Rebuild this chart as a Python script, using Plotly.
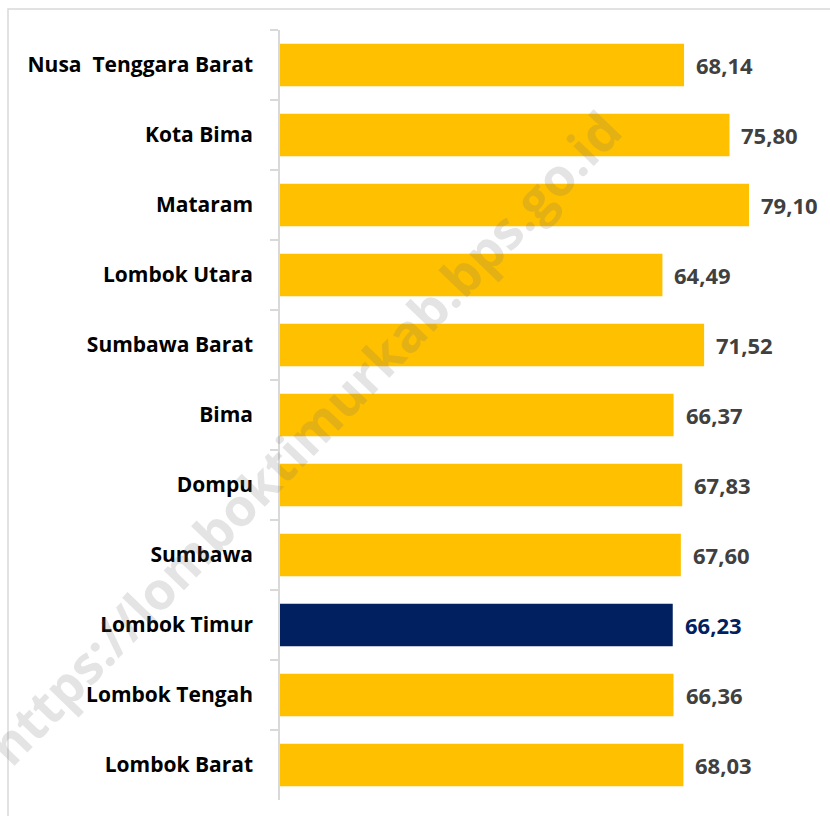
import plotly.graph_objects as go

# Kabupaten/kota di NTB, urut dari atas ke bawah
regions = [
    "Nusa\u00a0 Tenggara Barat",
    "Kota Bima",
    "Mataram",
    "Lombok Utara",
    "Sumbawa Barat",
    "Bima",
    "Dompu",
    "Sumbawa",
    "Lombok Timur",
    "Lombok Tengah",
    "Lombok Barat",
]
values = [68.14, 75.80, 79.10, 64.49, 71.52, 66.37, 67.83, 67.60, 66.23, 66.36, 68.03]
highlight = "Lombok Timur"

YELLOW = "#FFC000"
NAVY = "#002060"
LABEL_GREY = "#404040"
FRAME = "#D9D9D9"

W, H = 830, 816
ML, MR, MT, MB = 280, 0, 30, 16
plot_w = W - ML - MR
plot_h = H - MT - MB

bar_colors = [NAVY if r == highlight else YELLOW for r in regions]

fig = go.Figure(
    go.Bar(
        x=values,
        y=regions,
        orientation="h",
        marker=dict(color=bar_colors, line=dict(width=0)),
        hoverinfo="x+y",
    )
)

# value labels to the right of each bar
for r, v in zip(regions, values):
    fig.add_annotation(
        x=v,
        y=r,
        xref="x",
        yref="y",
        text=f"<b>{v:.2f}</b>".replace(".", ","),
        showarrow=False,
        xanchor="left",
        yanchor="middle",
        xshift=10,
        font=dict(family="Open Sans, sans-serif", size=22,
                  color=NAVY if r == highlight else LABEL_GREY),
    )

# watermark
fig.add_annotation(
    x=(303 - ML) / plot_w,
    y=(H - MB - 437) / plot_h,
    xref="paper",
    yref="paper",
    text="<b>https://lomboktimurkab.bps.go.id</b>",
    showarrow=False,
    textangle=-46,
    xanchor="center",
    yanchor="middle",
    font=dict(family="Open Sans, sans-serif", size=52, color="rgba(110,110,110,0.19)"),
)

# outer chart frame
fig.add_shape(
    type="rect",
    xref="paper",
    yref="paper",
    x0=(8 - ML) / plot_w,
    x1=1.2,
    y0=-0.2,
    y1=1 + (MT - 9) / plot_h,
    line=dict(color=FRAME, width=1.5),
    fillcolor="rgba(0,0,0,0)",
    layer="below",
)

fig.update_layout(
    width=W,
    height=H,
    margin=dict(l=ML, r=MR, t=MT, b=MB),
    paper_bgcolor="white",
    plot_bgcolor="white",
    bargap=0.39,
    showlegend=False,
    xaxis=dict(
        range=[0, plot_w / 5.93],
        visible=False,
        showgrid=False,
        zeroline=False,
        fixedrange=True,
    ),
    yaxis=dict(
        autorange="reversed",
        showline=True,
        linecolor=FRAME,
        linewidth=1.5,
        ticks="outside",
        tickson="boundaries",
        ticklen=8,
        tickcolor=FRAME,
        tickwidth=1.5,
        ticklabelstandoff=21,
        tickfont=dict(family="Open Sans, sans-serif", size=21, color="black"),
        tickprefix="<b>",
        ticksuffix="</b>",
        showgrid=False,
        fixedrange=True,
    ),
)

fig.write_html("out.html")
